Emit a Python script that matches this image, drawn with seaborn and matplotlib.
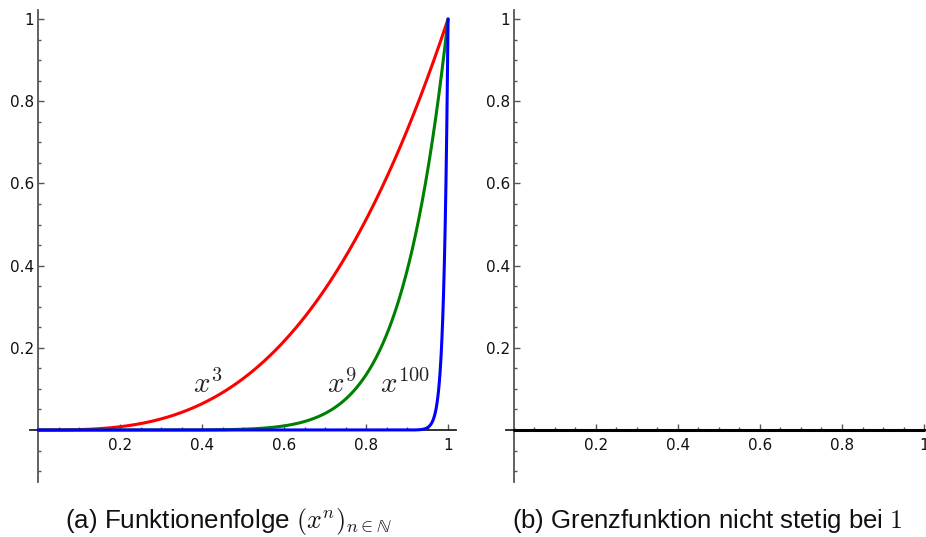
import numpy as np
import pandas as pd
import matplotlib
matplotlib.use("Agg")
import matplotlib.pyplot as plt
import seaborn as sns
from matplotlib.ticker import FixedLocator, FixedFormatter, MultipleLocator

# ---- data ----
exponents = [3, 9, 100]
curve_colors = ["#ff0000", "#008000", "#0000ff"]
curve_labels = [r"$x^{3}$", r"$x^{9}$", r"$x^{100}$"]
label_x = [0.378, 0.705, 0.834]
label_y = [0.09, 0.09, 0.09]
tick_values = [0.2, 0.4, 0.6, 0.8, 1.0]
tick_labels = ["0.2", "0.4", "0.6", "0.8", "1"]
limit_x = [0.0, 1.0]
limit_y = [0.0, 0.0]
captions = [r"(a) Funktionenfolge $(x^n)_{n\in\mathbb{N}}$",
            r"(b) Grenzfunktion nicht stetig bei $1$"]

xs = np.linspace(0, 1, 1000)
df = pd.concat([pd.DataFrame({"x": xs, "y": xs ** n, "n": str(n)}) for n in exponents],
               ignore_index=True)
df_lim = pd.DataFrame({"x": limit_x, "y": limit_y})

sns.set_theme(style="white")
plt.rcParams["font.family"] = ["DejaVu Sans"]
plt.rcParams["mathtext.fontset"] = "cm"

fig = plt.figure(figsize=(9.26, 5.37), dpi=100)
ax1 = fig.add_axes([0.0322, 0.102, 0.4605, 0.8793])
ax2 = fig.add_axes([0.5462, 0.102, 0.4605, 0.8793])

sns.lineplot(data=df, x="x", y="y", hue="n", palette=curve_colors, ax=ax1,
             linewidth=2.2, legend=False, zorder=5, clip_on=False)
sns.lineplot(data=df_lim, x="x", y="y", color="black", ax=ax2,
             linewidth=2.2, legend=False, zorder=5)

for lab, lx, ly in zip(curve_labels, label_x, label_y):
    ax1.text(lx, ly, lab, fontsize=21, ha="left", va="baseline", zorder=6)

axis_color = "#555555"
for ax in (ax1, ax2):
    ax.set_xlim(-0.02, 1.02)
    ax.set_ylim(-0.127, 1.022)
    ax.spines["left"].set_position(("data", 0))
    ax.spines["bottom"].set_position(("data", 0))
    ax.spines["top"].set_visible(False)
    ax.spines["right"].set_visible(False)
    ax.spines["left"].set_color(axis_color)
    ax.spines["bottom"].set_color("#222222")
    ax.spines["left"].set_linewidth(1.3)
    ax.spines["bottom"].set_linewidth(1.3)
    ax.xaxis.set_major_locator(FixedLocator(tick_values))
    ax.xaxis.set_major_formatter(FixedFormatter(tick_labels))
    ax.yaxis.set_major_locator(FixedLocator(tick_values))
    ax.yaxis.set_major_formatter(FixedFormatter(tick_labels))
    ax.xaxis.set_minor_locator(MultipleLocator(0.05))
    ax.yaxis.set_minor_locator(MultipleLocator(0.05))
    ax.tick_params(which="both", direction="in", color=axis_color, width=1.0,
                   bottom=True, left=True, top=False, right=False)
    ax.tick_params(which="major", length=4.5)
    ax.tick_params(which="minor", length=2.2)
    ax.tick_params(axis="x", which="major", pad=6, labelsize=11,
                   labelfontfamily="DejaVu Sans", labelcolor="#111111")
    ax.tick_params(axis="y", which="major", pad=3, labelsize=11,
                   labelfontfamily="DejaVu Sans", labelcolor="#111111")
    ax.set_xlabel("")
    ax.set_ylabel("")
    ax.grid(False)
    ax.patch.set_visible(False)

cap_font = ["Liberation Sans", "DejaVu Sans"]
fig.text(0.247, 0.029, captions[0], ha="center", va="center", fontsize=18.7,
         family=cap_font, color="#111111")
fig.text(0.7635, 0.029, captions[1], ha="center", va="center", fontsize=18.5,
         family=cap_font, color="#111111")

fig.savefig("out.png", dpi=100)
